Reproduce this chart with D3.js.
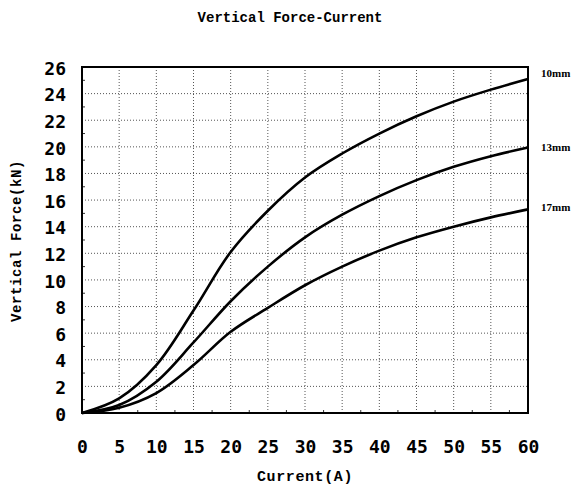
<!DOCTYPE html>
<html><head><meta charset="utf-8">
<script src="https://cdn.jsdelivr.net/npm/d3@7"></script>
<style>body{margin:0;background:#fff}</style>
</head><body>
<svg id="c" width="578" height="485"></svg>
<script>
const current = [0,5,10,15,20,25,30,35,40,45,50,55,60];
const force10 = [0,1.1,3.6,7.7,12.1,15.2,17.7,19.5,21.0,22.3,23.4,24.3,25.1];
const force13 = [0,0.6,2.35,5.3,8.4,11.0,13.2,14.9,16.3,17.5,18.5,19.3,19.95];
const force17 = [0,0.4,1.5,3.6,6.1,7.9,9.6,11.0,12.2,13.2,14.0,14.7,15.3];
const seriesNames = ["10mm","13mm","17mm"];
const xTicks = [0,5,10,15,20,25,30,35,40,45,50,55,60];
const yTicks = [0,2,4,6,8,10,12,14,16,18,20,22,24,26];

const svg = d3.select("#c");
const m = {l:82, r:528, t:67, b:413};
const x = d3.scaleLinear().domain([0,60]).range([m.l,m.r]);
const y = d3.scaleLinear().domain([0,26]).range([m.b,m.t]);

// grid
svg.append("g").selectAll("line").data(xTicks.slice(1,-1)).join("line")
  .attr("x1",d=>x(d)).attr("x2",d=>x(d)).attr("y1",m.t).attr("y2",m.b)
  .attr("stroke","#555").attr("stroke-width",1).attr("stroke-dasharray","1,2");
svg.append("g").selectAll("line").data(yTicks.slice(1,-1)).join("line")
  .attr("y1",d=>y(d)).attr("y2",d=>y(d)).attr("x1",m.l).attr("x2",m.r)
  .attr("stroke","#555").attr("stroke-width",1).attr("stroke-dasharray","1,2");
// minor ticks
svg.append("g").selectAll("line").data(d3.range(1,26,2)).join("line")
  .attr("y1",d=>y(d)).attr("y2",d=>y(d)).attr("x1",m.l).attr("x2",m.l+3)
  .attr("stroke","#333");
svg.append("g").selectAll("line").data(d3.range(2.5,60,5)).join("line")
  .attr("x1",d=>x(d)).attr("x2",d=>x(d)).attr("y1",m.b).attr("y2",m.b-3)
  .attr("stroke","#333");

// axes labels
const xa = d3.axisBottom(x).tickValues(xTicks).tickSize(0).tickPadding(0);
const gx = svg.append("g").attr("transform",`translate(0,${m.b+40})`).call(xa);
gx.select(".domain").remove();
gx.selectAll("text").attr("font-family","DejaVu Sans Mono").attr("font-weight","bold")
  .attr("font-size",18).attr("fill","#000").attr("dy","0");
const ya = d3.axisLeft(y).tickValues(yTicks).tickSize(0).tickPadding(0);
const gy = svg.append("g").attr("transform",`translate(${m.l-16},0)`).call(ya);
gy.select(".domain").remove();
gy.selectAll("text").attr("font-family","DejaVu Sans Mono").attr("font-weight","bold")
  .attr("font-size",18).attr("fill","#000").attr("dy","0.4em");

// border
svg.append("rect").attr("x",m.l).attr("y",m.t).attr("width",m.r-m.l).attr("height",m.b-m.t)
  .attr("fill","none").attr("stroke","#000").attr("stroke-width",2);

// curves
const all = [force10, force13, force17];
const line = d3.line().x((d,i)=>x(current[i])).y(d=>y(d)).curve(d3.curveCatmullRom);
svg.append("g").selectAll("path").data(all).join("path")
  .attr("d",line).attr("fill","none").attr("stroke","#000").attr("stroke-width",2.6);

// series labels
svg.append("g").selectAll("text").data(all).join("text")
  .attr("x",m.r+13).attr("y",(d,i)=>y(d[d.length-1]) - [2,-3,-2][i])
  .attr("font-family","Liberation Serif").attr("font-weight","bold").attr("font-size",11)
  .text((d,i)=>seriesNames[i]);

// titles
svg.append("text").attr("x",290).attr("y",22).attr("text-anchor","middle")
  .attr("font-family","Liberation Mono").attr("font-weight","bold").attr("font-size",14)
  .text("Vertical Force-Current");
svg.append("text").attr("x",305).attr("y",481).attr("text-anchor","middle")
  .attr("font-family","Liberation Mono").attr("font-weight","bold").attr("font-size",15)
  .attr("letter-spacing","0.6")
  .text("Current(A)");
svg.append("text").attr("transform","translate(21,241) rotate(-90)").attr("text-anchor","middle")
  .attr("font-family","Liberation Mono").attr("font-weight","bold").attr("font-size",14)
  .attr("letter-spacing","0.6")
  .text("Vertical Force(kN)");
</script>
</body></html>
